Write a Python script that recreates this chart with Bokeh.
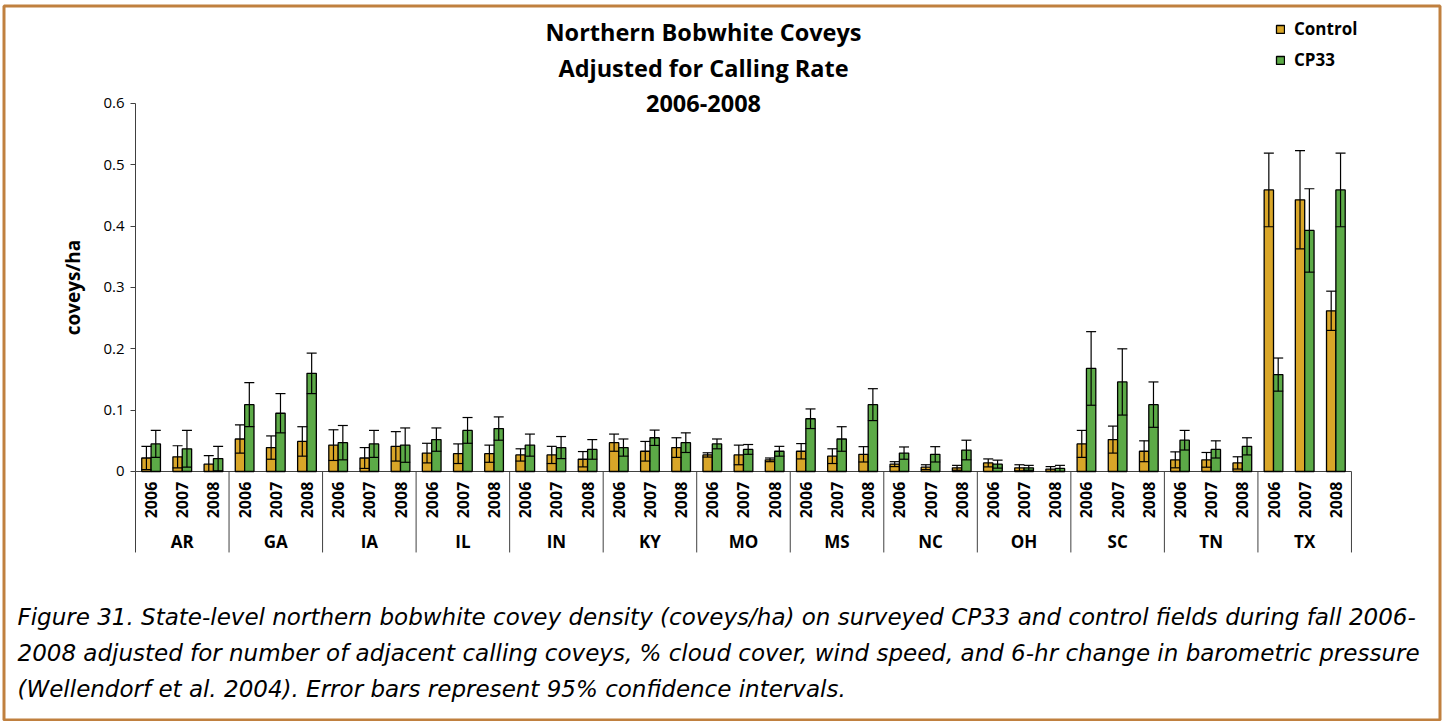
import math

from bokeh.core.properties import value
from bokeh.embed import file_html
from bokeh.models import (BoxAnnotation, ColumnDataSource, FixedTicker, Label, Legend,
                          LegendItem, Range1d, TeeHead, Whisker)
from bokeh.plotting import figure
from bokeh.resources import INLINE

# ---- data: covey density (coveys/ha) and 95% CI half-widths ----
states = ["AR", "GA", "IA", "IL", "IN", "KY", "MO", "MS", "NC", "OH", "SC", "TN", "TX"]
years = ["2006", "2007", "2008"]

control = [0.022, 0.024, 0.012,   # AR
           0.053, 0.039, 0.049,   # GA
           0.043, 0.022, 0.041,   # IA
           0.030, 0.029, 0.029,   # IL
           0.027, 0.027, 0.020,   # IN
           0.047, 0.033, 0.039,   # KY
           0.027, 0.027, 0.019,   # MO
           0.033, 0.025, 0.028,   # MS
           0.012, 0.007, 0.006,   # NC
           0.014, 0.006, 0.004,   # OH
           0.045, 0.052, 0.033,   # SC
           0.019, 0.019, 0.014,   # TN
           0.459, 0.443, 0.262]   # TX
control_ci = [0.019, 0.018, 0.014,
              0.023, 0.019, 0.024,
              0.025, 0.017, 0.024,
              0.016, 0.016, 0.014,
              0.010, 0.014, 0.0125,
              0.014, 0.016, 0.016,
              0.0035, 0.016, 0.003,
              0.0125, 0.012, 0.0125,
              0.004, 0.004, 0.004,
              0.0065, 0.005, 0.004,
              0.022, 0.022, 0.017,
              0.013, 0.012, 0.010,
              0.060, 0.080, 0.032]

cp33 = [0.045, 0.037, 0.021,
        0.109, 0.095, 0.160,
        0.047, 0.045, 0.043,
        0.052, 0.067, 0.070,
        0.043, 0.039, 0.036,
        0.039, 0.055, 0.047,
        0.045, 0.036, 0.033,
        0.086, 0.053, 0.109,
        0.030, 0.028, 0.035,
        0.012, 0.006, 0.005,
        0.168, 0.146, 0.109,
        0.051, 0.036, 0.041,
        0.158, 0.393, 0.459]
cp33_ci = [0.022, 0.030, 0.020,
           0.036, 0.032, 0.033,
           0.028, 0.022, 0.028,
           0.019, 0.021, 0.019,
           0.018, 0.018, 0.016,
           0.014, 0.0125, 0.016,
           0.008, 0.008, 0.008,
           0.016, 0.020, 0.026,
           0.010, 0.0125, 0.016,
           0.0065, 0.004, 0.005,
           0.060, 0.054, 0.037,
           0.016, 0.014, 0.014,
           0.027, 0.068, 0.060]

y_ticks = [0, 0.1, 0.2, 0.3, 0.4, 0.5, 0.6]
y_tick_labels = ["0", "0.1", "0.2", "0.3", "0.4", "0.5", "0.6"]

title_lines = ["Northern Bobwhite Coveys", "Adjusted for Calling Rate", "2006-2008"]
caption_lines = [
    "Figure 31.  State-level northern bobwhite covey density (coveys/ha) on surveyed CP33 and control fields during fall 2006-",
    "2008 adjusted for number of adjacent calling coveys, % cloud cover, wind speed, and 6-hr change in barometric pressure",
    "(Wellendorf et al. 2004).  Error bars represent 95% confidence intervals.",
]

FONT = "Open Sans"
CAPTION_FONT = "DejaVu Sans"
GOLD = "#D9A628"
GREEN = "#5CAA47"
AXIS = "#404040"
FRAME = "#C0803F"

# each state/year slot is one unit wide on the x scale; the chart body spans
# slots 0..39, the rest of the page (title, legend, caption) sits around it
n_slots = len(states) * len(years)
slot = list(range(n_slots))
src = ColumnDataSource(dict(
    xc=[i + 0.5 - 0.15 for i in slot],
    xg=[i + 0.5 + 0.15 for i in slot],
    xm=[i + 0.5 for i in slot],
    year=[years[i % len(years)] for i in slot],
    control=control,
    control_lo=[max(v - c, 0) for v, c in zip(control, control_ci)],
    control_hi=[v + c for v, c in zip(control, control_ci)],
    cp33=cp33,
    cp33_lo=[max(v - c, 0) for v, c in zip(cp33, cp33_ci)],
    cp33_hi=[v + c for v, c in zip(cp33, cp33_ci)],
))

p = figure(width=1442, height=721, output_backend="svg", toolbar_location=None,
           title=None, x_axis_location=None,
           x_range=Range1d(-4.33, 41.92), y_range=Range1d(-0.4076, 0.7679),
           min_border=0)
p.grid.visible = False
p.outline_line_color = None
p.background_fill_color = "white"
p.border_fill_color = "white"

ax = p.yaxis[0]
ax.fixed_location = 0
ax.bounds = (0, 0.6)
ax.ticker = FixedTicker(ticks=y_ticks)
ax.major_label_overrides = {t: l for t, l in zip(y_ticks, y_tick_labels)}
ax.axis_line_color = AXIS
ax.major_tick_line_color = AXIS
ax.major_tick_out = 5
ax.major_tick_in = 0
ax.minor_tick_out = 0
ax.minor_tick_in = 0
ax.major_label_standoff = 6
ax.major_label_text_font = FONT
ax.major_label_text_font_size = "15px"
ax.major_label_text_color = "black"
ax.axis_label = "coveys/ha"
ax.axis_label_text_font = FONT
ax.axis_label_text_font_size = "19px"
ax.axis_label_text_font_style = "bold"
ax.axis_label_text_color = "black"
ax.axis_label_standoff = 14

# zero baseline under the bars
p.segment(x0=0, y0=0, x1=n_slots, y1=0, line_color=AXIS, line_width=1)

# bars
rc = p.vbar(x="xc", top="control", bottom=0, width=0.3, source=src,
            fill_color=GOLD, line_color="black", line_width=1.3)
rg = p.vbar(x="xg", top="cp33", bottom=0, width=0.3, source=src,
            fill_color=GREEN, line_color="black", line_width=1.3)

# 95% CI whiskers
for base, lo, hi in [("xc", "control_lo", "control_hi"), ("xg", "cp33_lo", "cp33_hi")]:
    p.add_layout(Whisker(source=src, base=base, lower=lo, upper=hi,
                         line_color="black", line_width=1.2, level="annotation",
                         upper_head=TeeHead(size=10, line_color="black", line_width=1.2),
                         lower_head=TeeHead(size=10, line_color="black", line_width=1.2)))

# state separators below the baseline
bounds_x = [len(years) * g for g in range(len(states) + 1)]
p.segment(x0=bounds_x, y0=0, x1=bounds_x, y1=-0.132, line_color=AXIS, line_width=1)

# rotated year labels and state labels
p.text(x="xm", y=-0.0465, text="year", source=src, angle=math.pi / 2,
       text_align="center", text_baseline="middle", text_font=value(FONT),
       text_font_size="16px", text_font_style="bold", text_color="black")
p.text(x=[len(years) * g + 1.5 for g in range(len(states))], y=-0.114, text=states,
       text_align="center", text_baseline="middle", text_font=value(FONT),
       text_font_size="17px", text_font_style="bold", text_color="black")

# legend
legend = Legend(items=[LegendItem(label="Control", renderers=[rc]),
                       LegendItem(label="CP33", renderers=[rg])],
                location=(1275, 650), orientation="vertical",
                border_line_color=None, background_fill_alpha=0,
                padding=0, margin=0, spacing=8, label_height=20,
                glyph_width=10, glyph_height=10, label_standoff=9,
                label_text_font=FONT, label_text_font_size="17px",
                label_text_font_style="bold", label_text_color="black")
p.add_layout(legend)

# chart title
for i, line in enumerate(title_lines):
    p.add_layout(Label(x=703, y=31 + 36 * i, x_units="canvas", y_units="canvas", text=line,
                       text_align="center", text_baseline="alphabetic", text_font=FONT,
                       text_font_size="23.5px", text_font_style="bold", text_color="black"))

# figure caption
for i, line in enumerate(caption_lines):
    p.add_layout(Label(x=17, y=616 + 36 * i, x_units="canvas", y_units="canvas", text=line,
                       text_align="left", text_baseline="alphabetic", text_font=CAPTION_FONT,
                       text_font_size="23px", text_font_style="italic", text_color="black"))

# page frame
p.add_layout(BoxAnnotation(left=3.5, right=1439.5, top=5.5, bottom=719.5,
                           left_units="canvas", right_units="canvas",
                           top_units="canvas", bottom_units="canvas",
                           fill_alpha=0, line_color=FRAME, line_alpha=1.0,
                           line_width=3, level="overlay"))

open("out.html", "w").write(file_html(p, INLINE))
